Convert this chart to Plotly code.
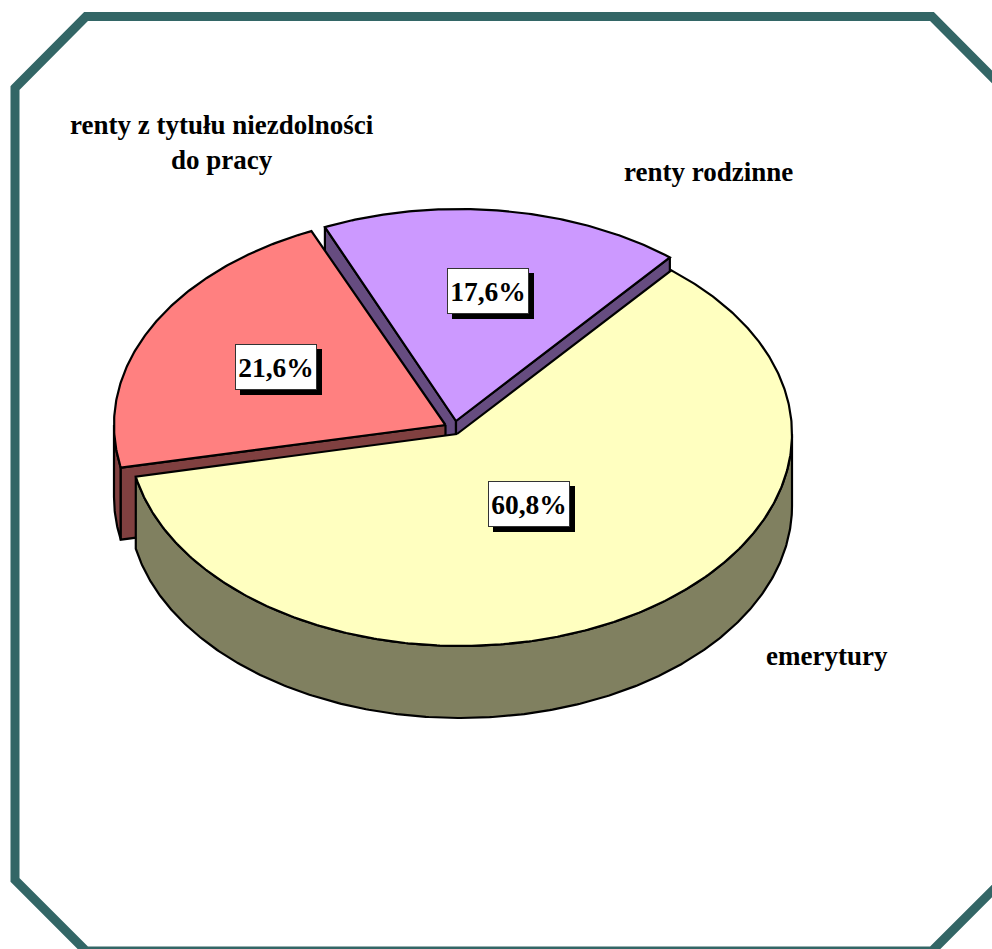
import numpy as np
import plotly.graph_objects as go

categories = ["emerytury", "renty z tytułu niezdolności<br>do pracy", "renty rodzinne"]
values = [60.8, 21.6, 17.6]
top_colors = ["#FFFFC0", "#FF8080", "#CC99FF"]
side_colors = ["#808060", "#804040", "#664C80"]
start_angle = 39.5

# Drawing parameters (pixel-space axes)
W, H = 992, 949
RX, RY, DEPTH = 331.5, 212.0, 72.0
centers = [(460.5, 434), (445.5, 425), (459, 421)]
apexes = [(457, 434), (445.5, 425), (456, 421)]
pct_centers = [(529, 504), (276, 367), (488, 291)]
cat_centers = [(827, 656), (222, 142), (708, 172)]
BOX_W, BOX_H = 82, 46


def pt(a, c, d=0.0):
    r = np.radians(a)
    return c[0] + RX * np.sin(r), c[1] - RY * np.cos(r) + d


def arc(a0, a1, c, d=0.0):
    n = max(int(abs(a1 - a0) * 2), 2)
    return pt(np.linspace(a0, a1, n), c, d)


def poly(fig, xs, ys, color):
    fig.add_trace(go.Scatter(
        x=list(xs) + [xs[0]], y=list(ys) + [ys[0]], mode="lines", fill="toself",
        fillcolor=color, line=dict(color="black", width=2.2), hoverinfo="skip",
        showlegend=False))


def top(fig, a0, a1, i):
    x, y = arc(a0, a1, centers[i])
    poly(fig, np.r_[apexes[i][0], x], np.r_[apexes[i][1], y], top_colors[i])


def rim(fig, a0, a1, i):
    x0, y0 = arc(a0, a1, centers[i])
    x1, y1 = arc(a1, a0, centers[i], DEPTH)
    poly(fig, np.r_[x0, x1], np.r_[y0, y1], side_colors[i])


def wall(fig, a, i):
    x, y = pt(a, centers[i])
    ax, ay = apexes[i]
    poly(fig, [ax, x, x, ax], [ay, y, y + DEPTH, ay + DEPTH], side_colors[i])


edges = start_angle + np.cumsum([0] + values) * 3.6
fig = go.Figure()

# purple slice (back)
wall(fig, edges[2], 2)
wall(fig, edges[3], 2)
top(fig, edges[2], edges[3], 2)
# red slice
rim(fig, edges[1], 270, 1)
wall(fig, edges[1], 1)
top(fig, edges[1], edges[2], 1)
# yellow slice (front)
rim(fig, 90, edges[1], 0)
top(fig, edges[0], edges[1], 0)

shapes = [dict(type="path", xref="x", yref="y", layer="below",
               path="M 15 88 L 86 16.5 L 932 16.5 L 1003 88 L 1003 880 L 932 951 L 86 951 L 15 880 Z",
               line=dict(color="#336666", width=9), fillcolor="white")]
annotations = []
for v, (px, py) in zip(values, pct_centers):
    shapes.append(dict(type="rect", xref="x", yref="y", x0=px - BOX_W / 2 + 5, x1=px + BOX_W / 2 + 5,
                       y0=py - BOX_H / 2 + 5, y1=py + BOX_H / 2 + 5, fillcolor="black",
                       line=dict(width=0), layer="above"))
    annotations.append(dict(x=px, y=py, xref="x", yref="y", showarrow=False,
                            text=f"{v:.1f}%".replace(".", ","), width=BOX_W - 2, height=BOX_H - 2,
                            bgcolor="white", bordercolor="#333333", borderwidth=1, borderpad=0,
                            align="center", valign="middle",
                            font=dict(family="Liberation Serif", size=27.5, color="black", weight="bold")))
for c, (px, py) in zip(categories, cat_centers):
    annotations.append(dict(x=px, y=py, xref="x", yref="y", showarrow=False, text=c, align="center",
                            font=dict(family="Liberation Serif", size=27, color="black", weight="bold")))

fig.update_layout(
    width=W, height=H, margin=dict(l=0, r=0, t=0, b=0), paper_bgcolor="white", plot_bgcolor="white",
    xaxis=dict(range=[0, W], visible=False, fixedrange=True),
    yaxis=dict(range=[H, 0], visible=False, fixedrange=True),
    shapes=shapes, annotations=annotations, showlegend=False)
fig.write_html("out.html", config={"displayModeBar": False},
               post_script="document.body.style.margin='0';document.documentElement.style.overflow='hidden';")
